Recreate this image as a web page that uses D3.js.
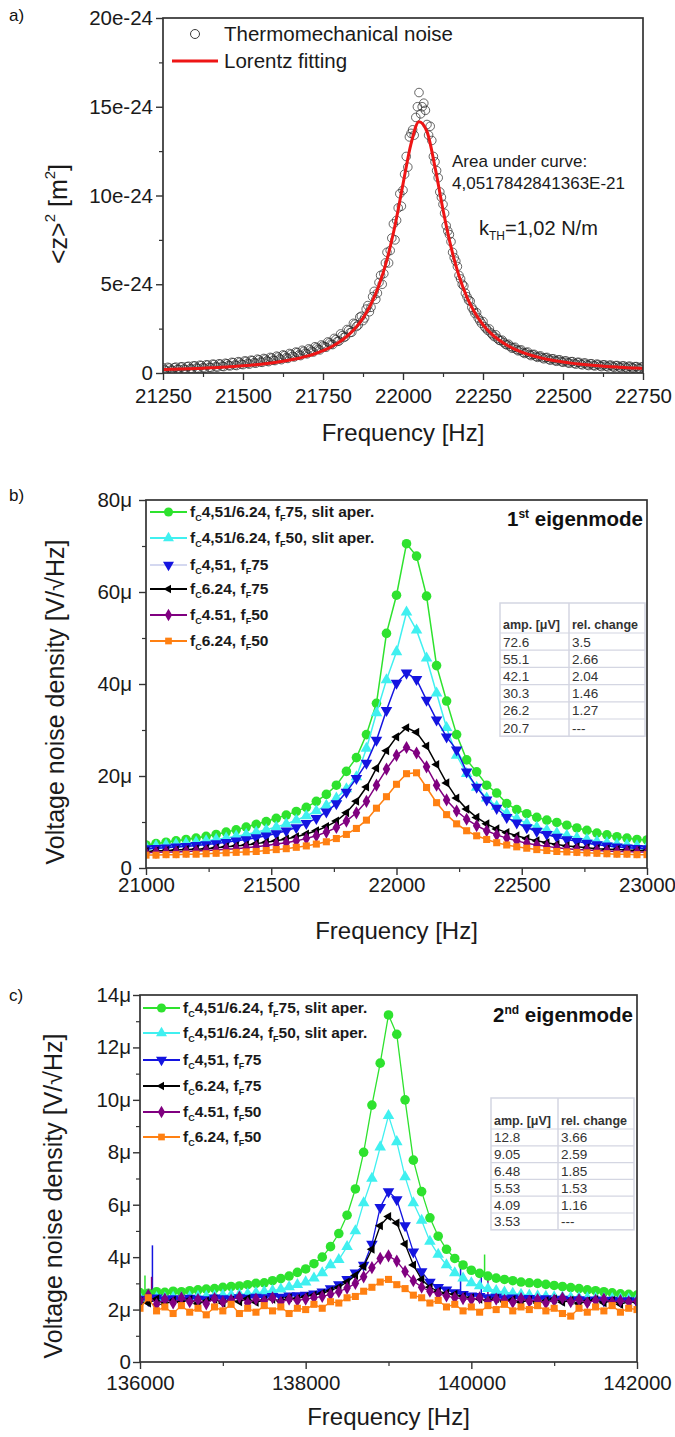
<!DOCTYPE html>
<html>
<head>
<meta charset="utf-8">
<script src="https://cdn.jsdelivr.net/npm/d3@7"></script>
<style>
  body { margin: 0; background: #fff; }
  svg text { font-family: "Liberation Sans", Arial, sans-serif; }
</style>
</head>
<body>
<div id="chart"></div>
<script>
// ---------- panel a: thermomechanical noise ----------
const freqA = d3.range(21250, 22751, 10);
const noiseA = [
  0.30,0.12,0.28,0.15,0.33,0.20,0.35,0.18,0.38,0.22,
  0.40,0.25,0.42,0.27,0.45,0.30,0.48,0.33,0.50,0.36,
  0.52,0.40,0.58,0.42,0.60,0.47,0.66,0.50,0.70,0.55,
  0.74,0.60,0.78,0.64,0.84,0.70,0.90,0.75,0.98,0.82,
  1.05,0.90,1.15,0.98,1.22,1.08,1.30,1.18,1.42,1.30,
  1.52,1.45,1.70,1.60,1.88,1.80,2.10,2.05,2.40,2.30,
  2.75,2.70,3.20,3.10,3.80,3.70,4.60,4.50,5.50,5.60,
  6.80,6.90,8.40,8.60,10.10,10.30,12.20,13.30,13.70,14.40,
  15.80,15.00,14.80,13.40,13.10,11.90,11.00,9.90,9.00,8.00,
  7.40,6.50,6.00,5.30,4.90,4.30,4.05,3.55,3.40,2.95,
  2.90,2.50,2.48,2.15,2.15,1.85,1.85,1.62,1.62,1.40,
  1.45,1.25,1.30,1.10,1.18,0.98,1.05,0.88,0.96,0.80,
  0.88,0.72,0.80,0.66,0.74,0.60,0.68,0.55,0.64,0.50,
  0.60,0.46,0.56,0.42,0.52,0.40,0.48,0.36,0.46,0.34,
  0.44,0.32,0.42,0.30,0.40,0.28,0.38,0.27,0.36,0.25,
  0.34
];
// second sweep, sampled half-way between the first
const freqA2 = d3.range(21255, 22750, 10);
const noiseA2 = [
  0.18,0.32,0.16,0.30,0.20,0.34,0.22,0.36,0.24,0.40,
  0.28,0.44,0.30,0.46,0.32,0.50,0.35,0.52,0.38,0.55,
  0.42,0.60,0.45,0.64,0.50,0.68,0.54,0.72,0.58,0.78,
  0.62,0.82,0.68,0.88,0.72,0.95,0.80,1.02,0.86,1.10,
  0.94,1.18,1.02,1.28,1.12,1.36,1.22,1.48,1.34,1.58,
  1.48,1.75,1.62,1.95,1.78,2.20,2.00,2.45,2.28,2.80,
  2.62,3.15,2.95,3.60,3.45,4.30,4.15,5.10,5.00,6.20,
  6.20,7.60,7.50,9.30,9.40,11.20,11.60,13.50,13.40,15.00,
  14.60,15.20,14.00,13.90,12.20,11.40,10.20,9.50,8.30,7.80,
  6.80,6.30,5.50,5.00,4.50,4.10,3.70,3.35,3.10,2.80,
  2.60,2.40,2.25,2.05,1.95,1.82,1.72,1.58,1.50,1.42,
  1.32,1.28,1.16,1.15,1.04,1.04,0.94,0.94,0.86,0.86,
  0.78,0.80,0.70,0.74,0.64,0.68,0.58,0.64,0.54,0.60,
  0.50,0.56,0.46,0.52,0.42,0.50,0.40,0.46,0.38,0.44,
  0.36,0.42,0.34,0.40,0.32,0.38,0.30,0.36,0.28,0.34
];
const freqFitA = d3.range(21250, 22751, 25);
const fitA = [
  0.195,0.208,0.221,0.236,0.253,0.272,0.293,0.316,0.342,0.371,
  0.404,0.442,0.485,0.535,0.593,0.661,0.741,0.835,0.949,1.086,
  1.255,1.466,1.731,2.07,2.51,3.094,3.878,4.943,6.39,8.31,
  10.64,12.91,14.16,13.6,11.6,9.2,7.1,5.47,4.26,3.38,
  2.72,2.23,1.856,1.564,1.334,1.15,1.0,0.878,0.776,0.691,
  0.619,0.557,0.504,0.459,0.419,0.384,0.353,0.326,0.302,0.28,0.26
];
const xTicksA = [21250, 21500, 21750, 22000, 22250, 22500, 22750];
const xLabelsA = ["21250", "21500", "21750", "22000", "22250", "22500", "22750"];
const yTicksA = [0, 5, 10, 15, 20];
const yLabelsA = ["0", "5e-24", "10e-24", "15e-24", "20e-24"];

// ---------- panel b: 1st eigenmode ----------
const freqB = d3.range(21000, 23001, 40);
const greenB = [5.0,5.3,5.6,5.9,6.2,6.5,6.9,7.3,7.8,8.3,
  8.9,9.5,10.1,10.8,11.5,12.3,13.2,14.5,16.0,18.0,
  21.0,24.0,29.0,35.8,51.0,59.3,70.5,67.8,59.1,44.0,
  36.3,29.0,23.5,20.9,18.0,16.3,14.0,12.7,11.8,11.0,
  10.4,9.9,9.3,8.7,8.2,7.6,7.2,6.8,6.5,6.2,6.1];
const cyanB = [4.6,4.8,5.0,5.2,5.4,5.6,5.9,6.2,6.5,6.9,
  7.3,7.8,8.3,8.9,9.6,10.4,11.3,12.4,13.6,15.2,
  17.2,19.8,26.0,33.7,40.9,47.0,55.6,51.7,45.6,38.0,
  30.5,24.5,20.5,17.5,15.2,13.4,11.9,10.7,9.7,8.9,
  8.2,7.6,7.1,6.6,6.2,5.8,5.5,5.2,5.0,4.8,4.6];
const blueB = [4.2,4.3,4.4,4.6,4.7,4.9,5.1,5.3,5.6,5.9,
  6.2,6.6,7.0,7.5,8.1,8.8,9.7,10.8,12.2,14.0,
  16.5,19.5,22.8,27.8,34.3,40.2,42.4,41.0,36.5,32.2,
  28.5,25.7,20.9,17.6,14.8,13.0,11.0,9.8,8.8,8.0,
  7.3,6.7,6.2,5.8,5.4,5.1,4.8,4.6,4.4,4.3,4.2];
const blackB = [3.6,3.7,3.8,3.9,4.0,4.1,4.2,4.4,4.6,4.8,
  5.0,5.3,5.6,5.9,6.3,6.8,7.4,8.1,9.0,10.2,
  12.0,14.5,17.6,21.7,25.5,28.5,30.5,29.5,26.5,22.5,
  18.5,15.2,12.8,11.0,9.6,8.5,7.7,7.0,6.4,5.9,
  5.5,5.1,4.8,4.6,4.4,4.2,4.1,4.0,3.9,3.8,3.8];
const purpleB = [3.3,3.4,3.5,3.5,3.6,3.7,3.8,3.9,4.1,4.2,
  4.4,4.6,4.9,5.2,5.5,5.9,6.4,7.0,7.8,8.8,
  10.2,12.0,14.5,18.0,21.5,24.5,26.2,25.0,22.0,18.0,
  14.8,12.4,10.6,9.2,8.1,7.2,6.5,5.9,5.4,5.0,
  4.7,4.4,4.2,4.0,3.9,3.8,3.7,3.6,3.6,3.5,3.5];
const orangeB = [2.8,2.8,2.9,2.9,3.0,3.0,3.1,3.2,3.3,3.4,
  3.5,3.6,3.8,4.0,4.2,4.5,4.8,5.2,5.7,6.4,
  7.3,8.6,10.4,13.0,15.5,18.2,20.5,20.7,17.5,14.2,
  11.6,9.6,8.1,7.0,6.2,5.5,5.0,4.6,4.3,4.0,
  3.8,3.6,3.5,3.4,3.3,3.2,3.1,3.0,3.0,2.9,2.9];
const xTicksB = [21000, 21500, 22000, 22500, 23000];
const xLabelsB = ["21000", "21500", "22000", "22500", "23000"];
const yTicksB = [0, 20, 40, 60, 80];
const yLabelsB = ["0", "20μ", "40μ", "60μ", "80μ"];
const ampB = ["72.6", "55.1", "42.1", "30.3", "26.2", "20.7"];
const relB = ["3.5", "2.66", "2.04", "1.46", "1.27", "---"];

// ---------- panel c: 2nd eigenmode ----------
const freqC = d3.range(136000, 142001, 100);
const greenC = [2.65,2.62,2.68,2.66,2.70,2.68,2.72,2.75,2.78,2.80,
  2.85,2.88,2.90,2.95,3.00,3.02,3.10,3.18,3.28,3.42,
  3.55,3.75,4.00,4.40,4.90,5.60,6.60,8.00,9.80,11.40,
  13.24,12.50,10.00,7.70,6.50,5.50,4.80,4.30,3.95,3.70,
  3.50,3.38,3.28,3.20,3.15,3.10,3.05,3.02,3.00,2.96,
  2.92,2.88,2.84,2.80,2.75,2.72,2.68,2.64,2.60,2.58,2.55];
const cyanC = [2.45,2.42,2.45,2.44,2.46,2.45,2.48,2.50,2.50,2.52,
  2.55,2.56,2.58,2.60,2.64,2.68,2.72,2.78,2.86,2.95,
  3.05,3.20,3.40,3.70,3.90,4.40,5.00,6.07,7.00,8.20,
  9.40,8.40,7.06,6.07,5.40,4.60,4.10,3.70,3.40,3.20,
  3.02,2.90,2.80,2.72,2.66,2.62,2.58,2.55,2.52,2.50,
  2.48,2.47,2.46,2.45,2.44,2.43,2.42,2.42,2.41,2.40,2.40];
const blueC = [2.40,2.35,2.45,2.38,2.42,2.36,2.44,2.40,2.38,2.45,
  2.42,2.40,2.46,2.44,2.48,2.46,2.50,2.48,2.52,2.53,
  2.55,2.60,2.68,2.80,2.95,3.15,3.40,3.70,4.50,5.90,
  6.50,6.20,5.20,4.20,3.45,3.05,2.85,2.75,2.65,2.58,
  2.52,2.50,2.46,2.48,2.42,2.45,2.40,2.43,2.38,2.42,
  2.36,2.40,2.35,2.38,2.34,2.37,2.33,2.36,2.32,2.34,2.30];
const blackC = [2.30,2.25,2.40,2.20,2.35,2.28,2.38,2.22,2.32,2.40,
  2.25,2.35,2.30,2.42,2.28,2.36,2.40,2.33,2.45,2.42,
  2.50,2.55,2.62,2.72,2.85,3.05,3.30,3.65,4.30,5.20,
  5.55,5.30,4.50,3.70,3.15,2.85,2.70,2.62,2.58,2.50,
  2.45,2.40,2.35,2.42,2.30,2.38,2.28,2.36,2.25,2.33,
  2.40,2.28,2.35,2.22,2.32,2.38,2.26,2.34,2.20,2.30,2.28];
const purpleC = [2.35,2.55,2.20,2.40,2.25,2.45,2.30,2.38,2.22,2.42,
  2.30,2.36,2.48,2.25,2.40,2.32,2.45,2.28,2.40,2.35,
  2.40,2.45,2.50,2.58,2.68,2.82,3.00,3.25,3.60,3.95,
  4.05,3.85,3.45,3.10,2.85,2.70,2.60,2.52,2.45,2.42,
  2.38,2.45,2.30,2.40,2.35,2.28,2.42,2.32,2.38,2.25,
  2.36,2.44,2.30,2.38,2.26,2.35,2.40,2.28,2.34,2.30,2.32];
const orangeC = [2.05,2.45,1.95,2.10,1.85,2.15,1.90,2.05,1.80,2.10,
  1.95,2.20,1.85,2.05,1.90,2.15,1.95,2.10,1.85,2.05,
  2.00,2.20,2.05,2.30,2.25,2.45,2.50,2.70,2.85,3.05,
  3.15,2.95,2.80,2.55,2.45,2.25,2.35,2.10,2.20,1.95,
  2.10,1.90,2.15,2.00,2.20,1.95,2.10,2.00,2.15,1.95,
  2.05,1.85,1.75,2.05,1.90,2.10,1.95,2.15,1.90,2.05,2.00];
// narrow spikes in the traces: [series, frequency, low, high]
const spikesC = [
  [2, 136150, 2.4, 4.45], [0, 136060, 2.6, 3.3], [4, 136140, 2.3, 3.25],
  [0, 140160, 3.3, 4.1], [2, 139870, 2.6, 3.75], [2, 140120, 2.5, 3.5], [4, 140200, 2.3, 3.2]
];
const xTicksC = [136000, 138000, 140000, 142000];
const xLabelsC = ["136000", "138000", "140000", "142000"];
const yTicksC = [0, 2, 4, 6, 8, 10, 12, 14];
const yLabelsC = ["0", "2μ", "4μ", "6μ", "8μ", "10μ", "12μ", "14μ"];
const ampC = ["12.8", "9.05", "6.48", "5.53", "4.09", "3.53"];
const relC = ["3.66", "2.59", "1.85", "1.53", "1.16", "---"];

// legend texts: f_C <a>, f_F <b>
const legendParts = [
  ["4,51/6.24, ", "75, slit aper."],
  ["4,51/6.24, ", "50, slit aper."],
  ["4,51, ", "75"],
  ["6.24, ", "75"],
  ["4.51, ", "50"],
  ["6.24, ", "50"]
];
const seriesColors = ["#2ee22e", "#40f0f0", "#1414e0", "#000000", "#800080", "#ff8012"];
const shapes = [
  {type: d3.symbolCircle, size: 72, rot: 0},
  {type: d3.symbolTriangle, size: 58, rot: 0},
  {type: d3.symbolTriangle, size: 58, rot: 180},
  {type: d3.symbolTriangle, size: 36, rot: -90},
  {type: d3.symbolDiamond, size: 50, rot: 0},
  {type: d3.symbolSquare, size: 50, rot: 0}
];

const svg = d3.select("#chart").append("svg")
  .attr("width", 675).attr("height", 1437);

function makePanel(c) {
  const x = d3.scaleLinear().domain(c.xDomain).range([c.left, c.right]);
  const y = d3.scaleLinear().domain(c.yDomain).range([c.bottom, c.top]);
  const g = svg.append("g");
  svg.append("clipPath").attr("id", "clip" + c.name).append("rect")
    .attr("x", c.left).attr("y", c.top)
    .attr("width", c.right - c.left).attr("height", c.bottom - c.top);
  const plot = g.append("g").attr("clip-path", `url(#clip${c.name})`);
  return {x, y, g, plot, c};
}

function finishPanel(p) {
  const c = p.c;
  // minor ticks
  p.g.append("g").attr("transform", `translate(0,${c.bottom})`)
    .call(d3.axisBottom(p.x).tickValues(c.xMinor).tickSize(4).tickFormat(""))
    .call(a => a.select(".domain").remove())
    .selectAll("line").attr("stroke", "#333").attr("stroke-width", 1.2);
  p.g.append("g").attr("transform", `translate(${c.left},0)`)
    .call(d3.axisLeft(p.y).tickValues(c.yMinor).tickSize(4).tickFormat(""))
    .call(a => a.select(".domain").remove())
    .selectAll("line").attr("stroke", "#333").attr("stroke-width", 1.2);
  // major ticks + labels
  const xa = p.g.append("g").attr("transform", `translate(0,${c.bottom})`)
    .call(d3.axisBottom(p.x).tickValues(c.xTicks).tickSizeInner(7).tickSizeOuter(0)
      .tickPadding(c.xPad).tickFormat((d, i) => c.xLabels[i]))
    .attr("font-size", 20.5).attr("font-family", "Liberation Sans, Arial, sans-serif");
  xa.select(".domain").remove();
  xa.selectAll("line").attr("stroke", "#333").attr("stroke-width", 1.4);
  xa.selectAll("text").attr("fill", "#1a1a1a");
  const ya = p.g.append("g").attr("transform", `translate(${c.left},0)`)
    .call(d3.axisLeft(p.y).tickValues(c.yTicks).tickSizeInner(7).tickSizeOuter(0)
      .tickPadding(c.yPad).tickFormat((d, i) => c.yLabels[i]))
    .attr("font-size", 20.5).attr("font-family", "Liberation Sans, Arial, sans-serif");
  ya.select(".domain").remove();
  ya.selectAll("line").attr("stroke", "#333").attr("stroke-width", 1.4);
  ya.selectAll("text").attr("fill", "#1a1a1a");
  // frame
  p.g.append("rect").attr("x", c.left).attr("y", c.top)
    .attr("width", c.right - c.left).attr("height", c.bottom - c.top)
    .attr("fill", "none").attr("stroke", "#333").attr("stroke-width", 1.7);
  // x title
  p.g.append("text").attr("x", (c.left + c.right) / 2).attr("y", c.xTitleY)
    .attr("text-anchor", "middle").attr("font-size", 24).attr("fill", "#1a1a1a")
    .text("Frequency [Hz]");
  // panel letter
  svg.append("text").attr("x", 9).attr("y", c.letterY)
    .attr("font-family", "Liberation Serif, Times New Roman, serif")
    .attr("font-size", 17).attr("fill", "#111").text(c.letter);
}

function drawSeries(p, freqs, series, lw, scale) {
  series.forEach((vals, i) => {
    const pts = freqs.map((f, j) => [f, vals[j]]);
    p.plot.append("path").datum(pts)
      .attr("fill", "none").attr("stroke", seriesColors[i]).attr("stroke-width", lw)
      .attr("d", d3.line().x(d => p.x(d[0])).y(d => p.y(d[1])));
    p.plot.selectAll(null).data(pts).enter().append("path")
      .attr("transform", d => `translate(${p.x(d[0])},${p.y(d[1])}) rotate(${shapes[i].rot})`)
      .attr("d", d3.symbol().type(shapes[i].type).size(shapes[i].size * scale))
      .attr("fill", seriesColors[i]);
  });
}

function drawLegend(p, x0, x1, xt, ys, paleBlue) {
  legendParts.forEach((parts, i) => {
    const yc = ys[i];
    p.g.append("line").attr("x1", x0).attr("x2", x1).attr("y1", yc).attr("y2", yc)
      .attr("stroke", (paleBlue && i === 2) ? "#d4d8f0" : seriesColors[i]).attr("stroke-width", 2);
    p.g.append("path")
      .attr("transform", `translate(${(x0 + x1) / 2},${yc}) rotate(${shapes[i].rot})`)
      .attr("d", d3.symbol().type(shapes[i].type).size(shapes[i].size * 0.9))
      .attr("fill", seriesColors[i]);
    const t = p.g.append("text").attr("x", xt).attr("y", yc + 5)
      .attr("font-size", 15.5).attr("font-weight", "bold").attr("fill", "#1a1a1a");
    t.append("tspan").text("f");
    t.append("tspan").attr("dy", 4).attr("font-size", 9).text("C");
    t.append("tspan").attr("dy", -4).text(parts[0] + "f");
    t.append("tspan").attr("dy", 4).attr("font-size", 9).text("F");
    t.append("tspan").attr("dy", -4).text(parts[1]);
  });
}

function drawTable(p, x0, x1, xd, yTop, yHead, rowH, amps, rels) {
  const yBot = yHead + rowH * amps.length;
  const tg = p.g.append("g");
  tg.append("rect").attr("x", x0).attr("y", yTop).attr("width", x1 - x0).attr("height", yBot - yTop)
    .attr("fill", "#fff").attr("stroke", "#d4d6e2").attr("stroke-width", 1.5);
  tg.append("line").attr("x1", xd).attr("x2", xd).attr("y1", yTop).attr("y2", yBot)
    .attr("stroke", "#d4d6e2").attr("stroke-width", 1.5);
  amps.forEach((a, i) => {
    tg.append("line").attr("x1", x0).attr("x2", x1)
      .attr("y1", yHead + rowH * i).attr("y2", yHead + rowH * i)
      .attr("stroke", "#d4d6e2").attr("stroke-width", 1.2);
    const yc = yHead + rowH * (i + 0.5) + 5;
    tg.append("text").attr("x", x0 + 3).attr("y", yc).attr("font-size", 13.5).attr("fill", "#333").text(a);
    tg.append("text").attr("x", xd + 3).attr("y", yc).attr("font-size", 13.5).attr("fill", "#333").text(rels[i]);
  });
  tg.append("text").attr("x", x0 + 3).attr("y", yHead - 4).attr("font-size", 12.5)
    .attr("font-weight", "bold").attr("fill", "#333").text("amp.  [μV]");
  tg.append("text").attr("x", xd + 3).attr("y", yHead - 4).attr("font-size", 12.5)
    .attr("font-weight", "bold").attr("fill", "#333").text("rel. change");
}

function yTitle(x, y, parts) {
  const t = svg.append("text").attr("transform", `translate(${x},${y}) rotate(-90)`)
    .attr("text-anchor", "middle").attr("dominant-baseline", "middle")
    .attr("font-size", 25).attr("fill", "#1a1a1a");
  parts(t);
}

function eigenTitle(p, x, y, num, sup) {
  const t = p.g.append("text").attr("x", x).attr("y", y).attr("text-anchor", "end")
    .attr("font-size", 20.5).attr("font-weight", "bold").attr("fill", "#111");
  t.append("tspan").text(num);
  t.append("tspan").attr("dy", -8).attr("font-size", 12).text(sup);
  t.append("tspan").attr("dy", 8).text(" eigenmode");
}

// ===== panel a =====
const pa = makePanel({name: "a", left: 163, right: 643, top: 18, bottom: 373,
  xDomain: [21250, 22750], yDomain: [0, 20]});
const scatterA = freqA.map((f, i) => [f, noiseA[i]])
  .concat(freqA2.map((f, i) => [f, noiseA2[i]]));
pa.plot.selectAll(null).data(scatterA).enter().append("circle")
  .attr("cx", d => pa.x(d[0])).attr("cy", d => pa.y(d[1])).attr("r", 4.3)
  .attr("fill", "none").attr("stroke", "#2a2a2a").attr("stroke-width", 0.9).attr("opacity", 0.8);
pa.plot.append("path").datum(freqFitA.map((f, i) => [f, fitA[i]]))
  .attr("fill", "none").attr("stroke", "#ee1515").attr("stroke-width", 3)
  .attr("d", d3.line().curve(d3.curveMonotoneX).x(d => pa.x(d[0])).y(d => pa.y(d[1])));
finishPanel(Object.assign(pa, {c: Object.assign(pa.c, {
  xTicks: xTicksA, xLabels: xLabelsA, xMinor: d3.range(21375, 22750, 250),
  yTicks: yTicksA, yLabels: yLabelsA, yMinor: [2.5, 7.5, 12.5, 17.5],
  xPad: 8, yPad: 3, xTitleY: 441, letter: "a)", letterY: 21})}));
// legend a
pa.g.append("circle").attr("cx", 195).attr("cy", 34).attr("r", 4.5)
  .attr("fill", "none").attr("stroke", "#3a3a3a").attr("stroke-width", 1);
pa.g.append("text").attr("x", 224).attr("y", 41).attr("font-size", 20.5).attr("fill", "#1a1a1a")
  .text("Thermomechanical noise");
pa.g.append("line").attr("x1", 172).attr("x2", 218).attr("y1", 61).attr("y2", 61)
  .attr("stroke", "#ee1515").attr("stroke-width", 3);
pa.g.append("text").attr("x", 224).attr("y", 68).attr("font-size", 20.5).attr("fill", "#1a1a1a")
  .text("Lorentz fitting");
pa.g.append("text").attr("x", 452).attr("y", 167).attr("font-size", 17).attr("fill", "#1a1a1a")
  .text("Area under curve:");
pa.g.append("text").attr("x", 452).attr("y", 189).attr("font-size", 17).attr("fill", "#1a1a1a")
  .text("4,0517842841363E-21");
const kt = pa.g.append("text").attr("x", 479).attr("y", 235).attr("font-size", 20)
  .attr("fill", "#1a1a1a");
kt.append("tspan").text("k");
kt.append("tspan").attr("dy", 5).attr("font-size", 12).text("TH");
kt.append("tspan").attr("dy", -5).text("=1,02 N/m");
yTitle(60, 214, t => {
  t.append("tspan").text("<z>");
  t.append("tspan").attr("dy", -9).attr("font-size", 15).text("2");
  t.append("tspan").attr("dy", 9).text(" [m");
  t.append("tspan").attr("dy", -9).attr("font-size", 15).text("2");
  t.append("tspan").attr("dy", 9).text("]");
});

// ===== panel b =====
const pb = makePanel({name: "b", left: 146, right: 647, top: 500, bottom: 868,
  xDomain: [21000, 23000], yDomain: [0, 80]});
drawSeries(pb, freqB, [greenB, cyanB, blueB, blackB, purpleB, orangeB], 1.5, 1);
finishPanel(Object.assign(pb, {c: Object.assign(pb.c, {
  xTicks: xTicksB, xLabels: xLabelsB, xMinor: [21250, 21750, 22250, 22750],
  yTicks: yTicksB, yLabels: yLabelsB, yMinor: [10, 30, 50, 70],
  xPad: 2, yPad: 7, xTitleY: 939, letter: "b)", letterY: 501})}));
drawLegend(pb, 150, 187, 190, [512, 538, 565, 589, 615, 641], true);
eigenTitle(pb, 643, 526, "1", "st");
drawTable(pb, 500, 645, 569, 603, 633, 17.2, ampB, relB);
yTitle(57, 702, t => t.text("Voltage noise density [V/√Hz]"));

// ===== panel c =====
const pc = makePanel({name: "c", left: 140, right: 637, top: 995, bottom: 1362,
  xDomain: [136000, 142000], yDomain: [0, 14]});
pc.plot.selectAll(null).data(spikesC).enter().append("line")
  .attr("x1", d => pc.x(d[1])).attr("x2", d => pc.x(d[1]))
  .attr("y1", d => pc.y(d[2])).attr("y2", d => pc.y(d[3]))
  .attr("stroke", d => seriesColors[d[0]]).attr("stroke-width", 1.5);
drawSeries(pc, freqC, [greenC, cyanC, blueC, blackC, purpleC, orangeC], 1.3, 1);
finishPanel(Object.assign(pc, {c: Object.assign(pc.c, {
  xTicks: xTicksC, xLabels: xLabelsC, xMinor: [137000, 139000, 141000],
  yTicks: yTicksC, yLabels: yLabelsC, yMinor: [1, 3, 5, 7, 9, 11, 13],
  xPad: 6, yPad: 2, xTitleY: 1425, letter: "c)", letterY: 1001})}));
drawLegend(pc, 143, 180, 183, [1008, 1033, 1060, 1086, 1112, 1137], false);
eigenTitle(pc, 633, 1022, "2", "nd");
drawTable(pc, 491, 634, 558, 1098, 1129, 16.8, ampC, relC);
yTitle(55, 1196, t => t.text("Voltage noise density [V/√Hz]"));
</script>
</body>
</html>
